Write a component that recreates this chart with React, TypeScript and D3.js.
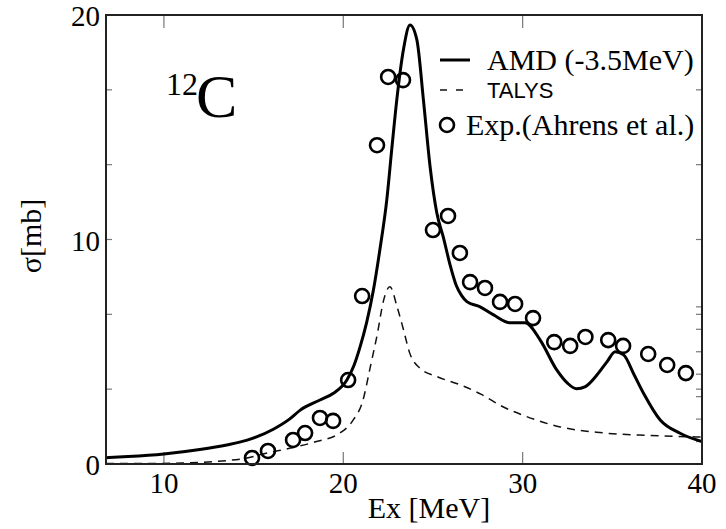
import React from "react";
import * as d3 from "d3";

// Photo-absorption cross section of 12C
const amdEnergy = [6.77, 8, 10, 12, 13.5, 14.6, 16.1, 17.0, 17.6, 18.7, 19.45, 20.2, 20.6, 20.94, 21.3, 21.68, 22.05, 22.43, 22.7, 22.98, 23.35, 23.72, 24.1, 24.47, 24.84, 25.21, 25.58, 25.96, 26.3, 26.6, 26.89, 27.63, 28.38, 29.3, 30.14, 30.98, 31.9, 32.5, 33.0, 33.5, 34.14, 34.7, 35.16, 35.63, 36.2, 36.74, 37.67, 38.78, 40];
const amdSigma = [0.28, 0.33, 0.45, 0.65, 0.85, 1.05, 1.55, 2.0, 2.4, 2.85, 3.15, 3.74, 4.4, 5.23, 6.3, 7.75, 9.6, 11.8, 14.0, 16.2, 18.44, 19.55, 18.9, 16.2, 13.24, 11.2, 10.1, 8.85, 7.95, 7.5, 7.23, 7.0, 6.64, 6.29, 6.29, 5.52, 4.19, 3.6, 3.35, 3.45, 3.96, 4.55, 5.0, 4.86, 4.0, 3.15, 1.96, 1.37, 1.0];

const talysEnergy = [6.77, 9, 11, 13, 14.5, 15.7, 17, 18.5, 19.8, 20.5, 21.1, 21.5, 21.9, 22.25, 22.6, 23.0, 23.35, 23.7, 24.3, 25.2, 26.6, 27.7, 28.9, 30.1, 32.1, 34.3, 37.1, 40];
const talysSigma = [0.02, 0.02, 0.04, 0.12, 0.25, 0.48, 0.7, 1.0, 1.37, 1.9, 2.85, 4.3, 5.8, 7.3, 7.9, 7.0, 6.0, 4.95, 4.25, 3.9, 3.5, 3.1, 2.55, 2.15, 1.65, 1.4, 1.27, 1.2];

const expEnergy = [14.91, 15.8, 17.2, 17.87, 18.7, 19.43, 20.27, 21.05, 21.88, 22.5, 23.33, 25.0, 25.84, 26.5, 27.07, 27.9, 28.74, 29.58, 30.58, 31.76, 32.65, 33.5, 34.77, 35.6, 37.0, 38.06, 39.1];
const expSigma = [0.27, 0.58, 1.07, 1.38, 2.05, 1.92, 3.74, 7.48, 14.2, 17.24, 17.1, 10.42, 11.05, 9.4, 8.1, 7.84, 7.22, 7.13, 6.5, 5.43, 5.26, 5.66, 5.52, 5.26, 4.9, 4.41, 4.05];

const xTickValues = [10, 20, 30, 40];
const yTickValues = [0, 10, 20];
const yMinorTicks = [10 / 3, 20 / 3, 40 / 3, 50 / 3];
const topTicks = [10, 20, 30];
const rightTicks = [50 / 3, 40 / 3, 10, 7, 20 / 3, 6, 5, 4, 10 / 3, 3, 2, 1];

const serif = "'Liberation Serif', 'Times New Roman', serif";
const sans = "'Liberation Sans', Arial, sans-serif";

export default function App() {
  const W = 726, H = 529;
  const left = 106, right = 702, top = 15, bottom = 464;
  const x = d3.scaleLinear().domain([6.77, 40]).range([left, right]);
  const y = d3.scaleLinear().domain([0, 20]).range([bottom, top]);

  const line = d3
    .line<[number, number]>()
    .x((d) => x(d[0]))
    .y((d) => y(d[1]))
    .curve(d3.curveMonotoneX);

  const amd = line(amdEnergy.map((e, i) => [e, amdSigma[i]] as [number, number])) || "";
  const talys = line(talysEnergy.map((e, i) => [e, talysSigma[i]] as [number, number])) || "";

  const tickColor = "#777";

  return (
    <svg
      width={W}
      height={H}
      style={{ position: "absolute", left: 0, top: 0, background: "#fff" }}
    >
      <defs>
        <clipPath id="plot">
          <rect x={left} y={top} width={right - left} height={bottom - top} />
        </clipPath>
      </defs>

      {/* ticks, pointing inward */}
      {xTickValues.filter((v) => v < 40).map((v) => (
        <line key={"bx" + v} x1={x(v)} x2={x(v)} y1={bottom} y2={bottom - 12} stroke={tickColor} strokeWidth={1.2} />
      ))}
      {topTicks.map((v) => (
        <line key={"tx" + v} x1={x(v)} x2={x(v)} y1={top} y2={top + 13} stroke={tickColor} strokeWidth={1.2} />
      ))}
      {yTickValues.concat(yMinorTicks).map((v) => (
        <line key={"ly" + v} x1={left} x2={left + 6} y1={y(v)} y2={y(v)} stroke={tickColor} strokeWidth={1.2} />
      ))}
      {rightTicks.map((v) => (
        <line key={"ry" + v} x1={right} x2={right - 6} y1={y(v)} y2={y(v)} stroke={tickColor} strokeWidth={1.2} />
      ))}

      {/* curves */}
      <g clipPath="url(#plot)">
        <path d={talys} fill="none" stroke="#111" strokeWidth={1.5} strokeDasharray="8,6" />
        <path d={amd} fill="none" stroke="#000" strokeWidth={3} strokeLinejoin="round" />
      </g>

      {/* experimental points */}
      {expEnergy.map((e, i) => (
        <circle key={"p" + i} cx={x(e)} cy={y(expSigma[i])} r={7} fill="none" stroke="#000" strokeWidth={2.6} />
      ))}

      {/* frame */}
      <rect x={left} y={top} width={right - left} height={bottom - top} fill="none" stroke="#222" strokeWidth={2} />

      {/* tick labels */}
      {xTickValues.map((v) => (
        <text key={"xl" + v} x={x(v)} y={493} textAnchor="middle" fontFamily={serif} fontSize={29} fill="#000">
          {v}
        </text>
      ))}
      {yTickValues.map((v) => (
        <text key={"yl" + v} x={100} y={y(v) + 11} textAnchor="end" fontFamily={serif} fontSize={29} fill="#000">
          {v}
        </text>
      ))}

      {/* axis titles */}
      <text x={429} y={518} textAnchor="middle" fontFamily={serif} fontSize={30} fill="#000">
        Ex [MeV]
      </text>
      <text transform="translate(41,236) rotate(-90)" textAnchor="middle" fontFamily={serif} fontSize={30} fill="#000">
        σ[mb]
      </text>

      {/* nucleus label */}
      <text x={166} y={95} fontFamily={serif} fontSize={32} fill="#000">12</text>
      <text x={196} y={117} fontFamily={serif} fontSize={62} fill="#000">C</text>

      {/* legend */}
      <line x1={440} x2={470} y1={60} y2={60} stroke="#000" strokeWidth={3} />
      <text x={487} y={70} fontFamily={serif} fontSize={30} fill="#000">AMD (-3.5MeV)</text>
      <line x1={440} x2={470} y1={90} y2={90} stroke="#111" strokeWidth={1.5} strokeDasharray="7,9" />
      <text x={487} y={98} fontFamily={sans} fontSize={22} fill="#000">TALYS</text>
      <circle cx={447} cy={125} r={7} fill="none" stroke="#000" strokeWidth={2.6} />
      <text x={466} y={135} fontFamily={serif} fontSize={30} fill="#000">Exp.(Ahrens et al.)</text>
    </svg>
  );
}
